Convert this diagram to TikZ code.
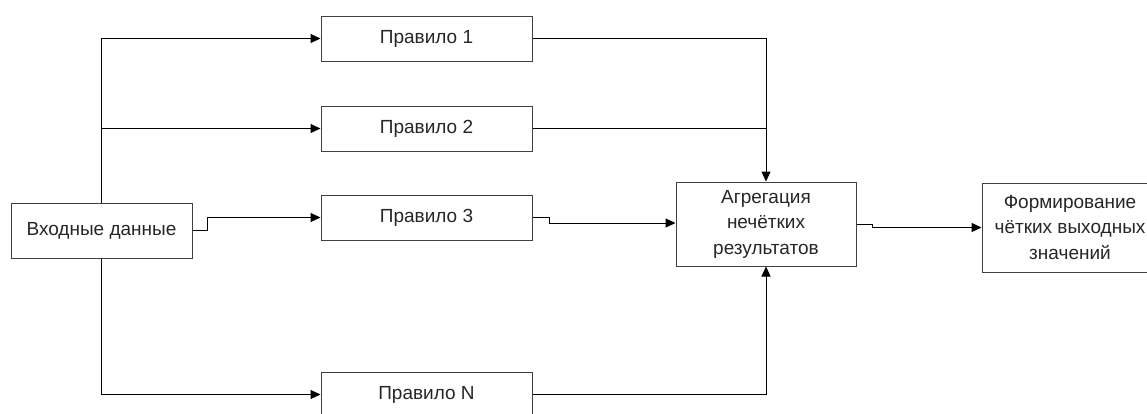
\documentclass[tikz,border=0pt]{standalone}
\usepackage{fontspec}
\setmainfont{Liberation Sans}
\usetikzlibrary{arrows.meta}
\begin{document}
\begin{tikzpicture}[x=1pt,y=-1pt,
  box/.style={draw=black!75,line width=1pt,inner sep=0pt,align=center,
    text=black!85,font=\fontsize{19}{25.5}\selectfont},
  conn/.style={draw=black,line width=1pt},
  arr/.style={conn,-{Triangle[length=10pt,width=9pt]}}]
\useasboundingbox (0,0) rectangle (1147,413);
\node[box,minimum width=181,minimum height=55] (in) at (101.5,230.5) {Входные данные};
\node[box,minimum width=211,minimum height=45] (r1) at (426.5,38.5) {Правило 1};
\node[box,minimum width=211,minimum height=45] (r2) at (426.5,128.5) {Правило 2};
\node[box,minimum width=211,minimum height=45] (r3) at (426.5,217.5) {Правило 3};
\node[box,minimum width=211,minimum height=45] (rN) at (426.5,394.5) {Правило N};
\node[box,minimum width=180,minimum height=84] (agg) at (766,224) {Агрегация\\нечётких\\результатов};
\node[box,minimum width=176,minimum height=89] (out) at (1070,227.5) {Формирование\\чётких выходных\\значений};
\draw[arr] (in.north) |- (r1.west);
\draw[arr] (in.north) |- (r2.west);
\draw[arr] (in.south) |- (rN.west);
\draw[arr] (in.east) -- ++(15,0) |- (r3.west);
\draw[arr] (r1.east) -| (agg.north);
\draw[conn] (r2.east) -- (r2.east -| agg.north);
\draw[arr] (rN.east) -| (agg.south);
\draw[arr] (r3.east) -- ++(17,0) |- ([yshift=1pt]agg.west);
\draw[arr] (agg.east) -- ++(16,0) |- (out.west);
\end{tikzpicture}
\end{document}
